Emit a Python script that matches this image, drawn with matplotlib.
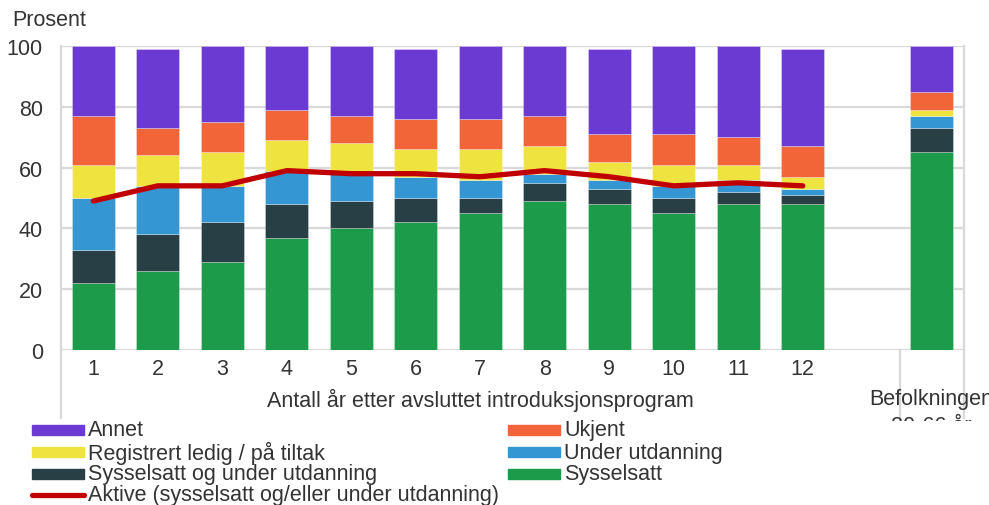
import matplotlib
matplotlib.use("Agg")
import matplotlib.pyplot as plt
from matplotlib.patches import Rectangle
from matplotlib.lines import Line2D
from matplotlib.transforms import Bbox, TransformedBbox
import numpy as np

plt.rcParams['font.family'] = ['Liberation Sans', 'DejaVu Sans']

# Categories: years after finishing the programme, plus the population reference bar
years = ["1", "2", "3", "4", "5", "6", "7", "8", "9", "10", "11", "12"]
population_label = ["Befolkningen", "20-66 år"]

# Shares (percent) per status, one value per year, last entry = population
sysselsatt        = [22, 26, 29, 37, 40, 42, 45, 49, 48, 45, 48, 48, 65]
syss_og_utdanning = [11, 12, 13, 11,  9,  8,  5,  6,  5,  5,  4,  3,  8]
under_utdanning   = [17, 16, 12, 11,  9,  7,  6,  3,  3,  4,  4,  2,  4]
registrert_ledig  = [11, 10, 11, 10, 10,  9, 10,  9,  6,  7,  5,  4,  2]
ukjent            = [16,  9, 10, 10,  9, 10, 10, 10,  9, 10,  9, 10,  6]
annet             = [23, 26, 25, 21, 23, 23, 24, 23, 28, 29, 30, 32, 15]

# Active (employed and/or in education), years only
aktive = [49, 54, 54, 59, 58, 58, 57, 59, 57, 54, 55, 54]

series = [
    ("Sysselsatt", sysselsatt, "#1c9b4b"),
    ("Sysselsatt og under utdanning", syss_og_utdanning, "#283f45"),
    ("Under utdanning", under_utdanning, "#3596d4"),
    ("Registrert ledig / på tiltak", registrert_ledig, "#efe340"),
    ("Ukjent", ukjent, "#f26539"),
    ("Annet", annet, "#6a3ad3"),
]
line_color = "#c00000"
grid_color = "#d9d9d9"
text_color = "#333333"
FS = 15.5

W, H = 989, 506
fig = plt.figure(figsize=(W / 100, H / 100), dpi=100)

def fx(px):
    return px / W

def fy(py):
    return 1 - py / H

ax_left, ax_right, ax_top, ax_bottom = 61, 964, 47, 351
ax = fig.add_axes([fx(ax_left), fy(ax_bottom), fx(ax_right) - fx(ax_left),
                   fy(ax_top) - fy(ax_bottom)])

x = np.array(list(range(1, len(years) + 1)) + [len(years) + 2], dtype=float)
bottom = np.zeros(len(x))
for name, vals, color in series:
    vals = np.array(vals, dtype=float)
    ax.bar(x, vals, width=0.66, bottom=bottom, color=color,
           edgecolor=(1, 1, 1, 0.35), linewidth=0.6, zorder=3)
    bottom += vals

ax.plot(x[:len(aktive)], aktive, color=line_color, lw=3.8,
        solid_capstyle="round", solid_joinstyle="round", zorder=4)

ax.set_xlim(0.5, len(years) + 2.5)
ax.set_ylim(0, 100)
ax.set_yticks([0, 20, 40, 60, 80, 100])
ax.yaxis.grid(True, color=grid_color, lw=1.6, zorder=0)
ax.set_axisbelow(True)
ax.tick_params(axis="y", length=0, pad=13, labelsize=FS, labelcolor=text_color)
ax.set_xticks(x[:len(years)])
ax.set_xticklabels(years)
ax.tick_params(axis="x", length=0, pad=6, labelsize=FS, labelcolor=text_color)

for side in ["top", "bottom"]:
    ax.spines[side].set_visible(False)
for side in ["left", "right"]:
    ax.spines[side].set_color(grid_color)
    ax.spines[side].set_linewidth(1.6)

# Vertical dividers below the axis for the two category groups
ext = -(419 - ax_bottom) / (ax_bottom - ax_top)
sep = len(years) + 1.5
for xv in [0.5, sep, len(years) + 2.5]:
    ax.plot([xv, xv], [0, ext * 100], color=grid_color, lw=1.6,
            clip_on=False, zorder=1)

ax.text(fx((ax_left + 899) / 2), fy(400),
        "Antall år etter avsluttet introduksjonsprogram",
        ha="center", va="center", fontsize=FS, color=text_color,
        transform=fig.transFigure)

pop_x = fx(931.5)
clip = TransformedBbox(Bbox([[0, fy(422)], [1, 1]]), fig.transFigure)
for i, (line, ypx) in enumerate(zip(population_label, [400, 426])):
    t = fig.text(pop_x, fy(ypx), line, ha="center", va="center", fontsize=FS,
                 color=text_color)
    t.set_clip_box(clip)
    t.set_clip_on(True)

fig.text(fx(12), fy(21), "Prosent", ha="left", va="center", fontsize=FS,
         color=text_color)

# Legend
legend_rows = [
    ("Annet", "#6a3ad3", "patch", 0, 0),
    ("Ukjent", "#f26539", "patch", 1, 0),
    ("Registrert ledig / på tiltak", "#efe340", "patch", 0, 1),
    ("Under utdanning", "#3596d4", "patch", 1, 1),
    ("Sysselsatt og under utdanning", "#283f45", "patch", 0, 2),
    ("Sysselsatt", "#1c9b4b", "patch", 1, 2),
    ("Aktive (sysselsatt og/eller under utdanning)", line_color, "line", 0, 3),
]
col_x = [32, 508]
row_y = [431, 453, 475, 496]
for label, color, kind, c, r in legend_rows:
    x0 = col_x[c]
    yc = row_y[r]
    if kind == "patch":
        fig.patches.append(Rectangle((fx(x0), fy(yc + 5)), fx(52), 10 / H,
                                     transform=fig.transFigure, color=color))
    else:
        fig.lines.append(Line2D([fx(x0), fx(x0 + 52)], [fy(yc), fy(yc)],
                                transform=fig.transFigure, color=color, lw=3.8,
                                solid_capstyle="round"))
    fig.text(fx(x0 + 56), fy(yc), label, ha="left", va="center",
             fontsize=FS, color=text_color)

fig.savefig("out.png", dpi=100)
